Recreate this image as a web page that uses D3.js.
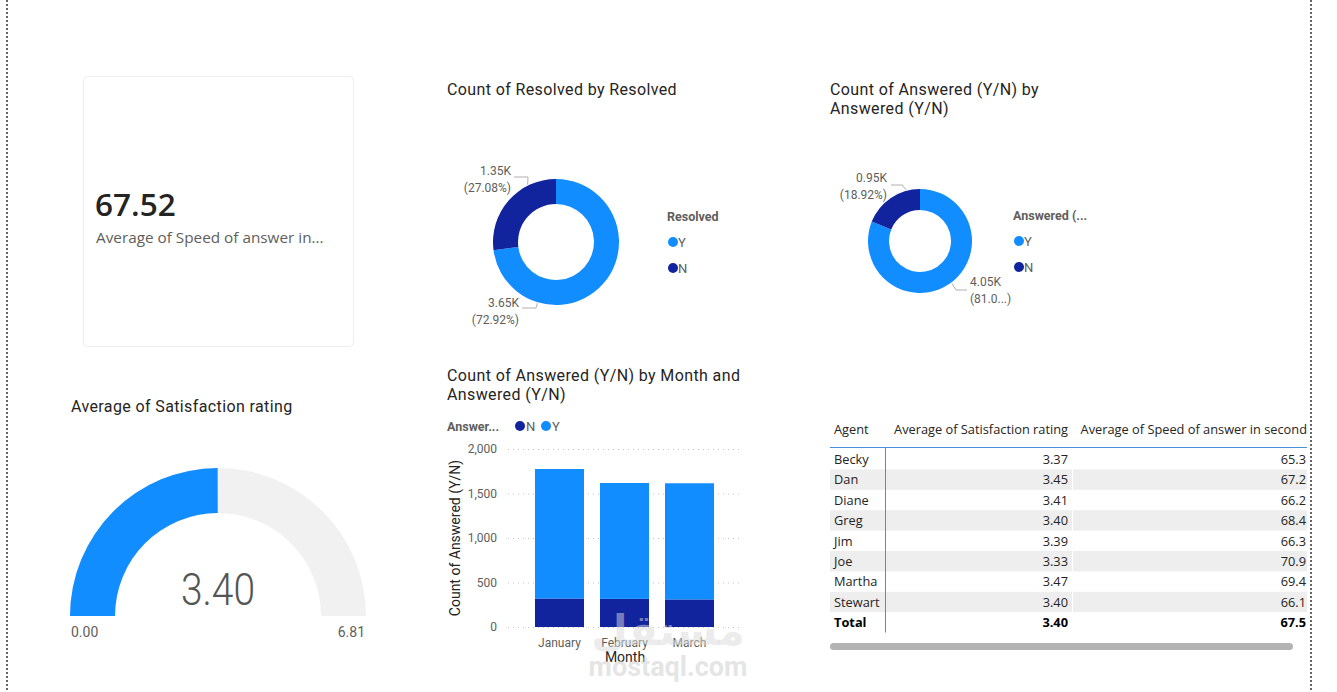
<!DOCTYPE html>
<html><head><meta charset="utf-8">
<script src="https://cdn.jsdelivr.net/npm/d3@7"></script>
<style>
html,body{margin:0;padding:0;background:#fff;}
svg{display:block;}
.t{font-family:Roboto,"DejaVu Sans",sans-serif;}
.s{font-family:"Open Sans","Noto Sans",sans-serif;}
.ttl{font-family:Roboto,"DejaVu Sans",sans-serif;font-size:16px;letter-spacing:0.38px;fill:#252423;}
</style></head><body>
<svg id="c" width="1337" height="692"></svg>
<script>
// ---------- DATA ----------
const kpiValue = 67.52;
const kpiLabel = "Average of Speed of answer in...";
const gaugeValue = 3.40;
const gaugeMin = 0;
const gaugeMax = 6.81;
const resolvedCats = ["Y","N"];
const resolvedCounts = [3646, 1354];
const answeredCats = ["Y","N"];
const answeredCounts = [4054, 946];
const months = ["January","February","March"];
const monthN = [320, 316, 310];
const monthY = [1455, 1302, 1305];
const yTicks = [0, 500, 1000, 1500, 2000];
const agents = ["Becky","Dan","Diane","Greg","Jim","Joe","Martha","Stewart"];
const agentSat = [3.37, 3.45, 3.41, 3.40, 3.39, 3.33, 3.47, 3.40];
const agentSpeed = [65.3, 67.2, 66.2, 68.4, 66.3, 70.9, 69.4, 66.1];
const totalSat = 3.40, totalSpeed = 67.5;

const BLUE = "#118DFF", NAVY = "#12239E", TXT = "#252423", SUB = "#605E5C";
const svg = d3.select("#c");

// page dotted borders
[7, 1311].forEach(x => svg.append("line").attr("x1", x).attr("x2", x).attr("y1", 0).attr("y2", 692)
  .attr("stroke", "#666").attr("stroke-width", 2).attr("stroke-dasharray", "2,2"));

// ---------- KPI CARD ----------
svg.append("rect").attr("x", 83.5).attr("y", 76.5).attr("width", 270).attr("height", 270).attr("rx", 4)
  .attr("fill", "#fff").attr("stroke", "#eeeeee");
svg.append("text").attr("class", "s").attr("x", 95).attr("y", 216).attr("font-size", 31.5).attr("font-weight", 600)
  .attr("fill", TXT).text(d3.format(".2f")(kpiValue));
svg.append("text").attr("class", "s").attr("x", 96).attr("y", 243).attr("font-size", 15.3).attr("fill", SUB).text(kpiLabel);

// ---------- GAUGE ----------
svg.append("text").attr("class", "ttl").attr("x", 71).attr("y", 412).text("Average of Satisfaction rating");
const gx = 218, gy = 616;
const ga = d3.scaleLinear().domain([gaugeMin, gaugeMax]).range([-Math.PI / 2, Math.PI / 2]);
const garc = d3.arc().innerRadius(103).outerRadius(148);
const gg = svg.append("g").attr("transform", `translate(${gx},${gy})`);
gg.append("path").attr("d", garc({startAngle: ga(gaugeMin), endAngle: ga(gaugeMax)})).attr("fill", "#F1F1F1");
gg.append("path").attr("d", garc({startAngle: ga(gaugeMin), endAngle: ga(gaugeValue)})).attr("fill", BLUE);
gg.append("text").attr("class", "t").attr("x", 0).attr("y", -11).attr("text-anchor", "middle").attr("font-size", 45)
  .attr("font-weight", 300).attr("fill", "#555").attr("textLength", 74).attr("lengthAdjust", "spacingAndGlyphs")
  .text(d3.format(".2f")(gaugeValue));
svg.append("text").attr("class", "t").attr("x", 71).attr("y", 637).attr("font-size", 14).attr("fill", SUB).text(d3.format(".2f")(gaugeMin));
svg.append("text").attr("class", "t").attr("x", 365).attr("y", 637).attr("text-anchor", "end").attr("font-size", 14).attr("fill", SUB).text(d3.format(".2f")(gaugeMax));

// ---------- DONUTS ----------
function kfmt(v) { return d3.format(".2f")(v / 1000) + "K"; }
function donut(opts) {
  const {cx, cy, r, ri, cats, counts, title, legendTitle, lx, ly, labels} = opts;
  const total = d3.sum(counts);
  const color = d3.scaleOrdinal().domain(["Y", "N"]).range([BLUE, NAVY]);
  const pie = d3.pie().sort(null).value(d => d.v);
  const arcs = pie(cats.map((c, i) => ({c, v: counts[i]})));
  const arc = d3.arc().innerRadius(ri).outerRadius(r);
  const g = svg.append("g").attr("transform", `translate(${cx},${cy})`);
  g.selectAll("path").data(arcs).join("path").attr("d", arc).attr("fill", d => color(d.data.c));
  title.forEach((t, i) => svg.append("text").attr("class", "ttl").attr("x", opts.tx).attr("y", opts.ty + i * 19).text(t));
  arcs.forEach((a, i) => {
    const L = labels[i];
    const ang = a.startAngle + (a.endAngle - a.startAngle) * L.f;
    const px = cx + (r + 1) * Math.sin(ang), py = cy - (r + 1) * Math.cos(ang);
    const pct = d3.format(".2%")(a.data.v / total);
    const pctTxt = L.trunc ? "(" + pct.slice(0, 4) + "...)" : "(" + pct + ")";
    svg.append("polyline").attr("points", L.pts(px, py).map(p => p.join(",")).join(" "))
      .attr("fill", "none").attr("stroke", "#b3b0ad").attr("stroke-width", 1);
    [kfmt(a.data.v), pctTxt].forEach((t, k) => svg.append("text").attr("class", "t")
      .attr("x", L.x).attr("y", L.y + k * 16.5).attr("text-anchor", L.anchor).attr("font-size", 12).attr("fill", SUB).text(t));
  });
  svg.append("text").attr("class", "t").attr("x", lx).attr("y", ly).attr("font-size", 12.5).attr("font-weight", 700)
    .attr("fill", SUB).text(legendTitle);
  cats.forEach((c, i) => {
    svg.append("circle").attr("cx", lx + 6).attr("cy", ly + 21 + i * 26).attr("r", 5).attr("fill", color(c));
    svg.append("text").attr("class", "t").attr("x", lx + 11).attr("y", ly + 26 + i * 26).attr("font-size", 13).attr("fill", SUB).text(c);
  });
}
donut({cx: 556, cy: 242, r: 63, ri: 38, cats: resolvedCats, counts: resolvedCounts,
  title: ["Count of Resolved by Resolved"], tx: 447, ty: 95, legendTitle: "Resolved", lx: 667, ly: 221,
  labels: [
    {f: 0.75, x: 519, y: 307, anchor: "end", pts: (px, py) => [[522, 308], [536, 308], [px, py]]},
    {f: 0.73, x: 511, y: 175, anchor: "end", pts: (px, py) => [[514, 177], [528, 177], [px, py]]}
  ]});
donut({cx: 920, cy: 241, r: 52, ri: 31, cats: answeredCats, counts: answeredCounts,
  title: ["Count of Answered (Y/N) by", "Answered (Y/N)"], tx: 830, ty: 95, legendTitle: "Answered (...", lx: 1013, ly: 220,
  labels: [
    {f: 0.49, x: 970, y: 286, anchor: "start", trunc: true, pts: (px, py) => [[px, py], [956, 290], [967, 290]]},
    {f: 0.78, x: 887, y: 182, anchor: "end", pts: (px, py) => [[891, 185], [902, 185], [px, py]]}
  ]});

// ---------- STACKED BAR ----------
svg.append("text").attr("class", "ttl").attr("x", 447).attr("y", 381).text("Count of Answered (Y/N) by Month and");
svg.append("text").attr("class", "ttl").attr("x", 447).attr("y", 400).text("Answered (Y/N)");
svg.append("text").attr("class", "t").attr("x", 447).attr("y", 431).attr("font-size", 12.5).attr("font-weight", 700).attr("fill", SUB).text("Answer...");
[["N", NAVY, 520], ["Y", BLUE, 546]].forEach(([c, col, x]) => {
  svg.append("circle").attr("cx", x).attr("cy", 426).attr("r", 5).attr("fill", col);
  svg.append("text").attr("class", "t").attr("x", x + 6).attr("y", 431).attr("font-size", 13).attr("fill", SUB).text(c);
});
const y = d3.scaleLinear().domain([0, 2000]).range([627, 449]);
const x = d3.scaleBand().domain(months).range([508, 741]).paddingInner(0.246).paddingOuter(0.415);
const yAxis = svg.append("g").attr("transform", "translate(508,0)")
  .call(d3.axisLeft(y).tickValues(yTicks).tickFormat(d3.format(",")).tickSize(-232).tickPadding(11));
yAxis.select(".domain").remove();
yAxis.selectAll(".tick line").attr("stroke", "#c8c6c4").attr("stroke-dasharray", "1,4");
yAxis.selectAll(".tick text").attr("class", "t").attr("font-size", 12).attr("fill", SUB);
const stackData = months.map((m, i) => ({m, N: monthN[i], Y: monthY[i]}));
const series = d3.stack().keys(["N", "Y"])(stackData);
const bc = {N: NAVY, Y: BLUE};
svg.selectAll("g.ser").data(series).join("g").attr("class", "ser").attr("fill", d => bc[d.key])
  .selectAll("rect").data(d => d).join("rect")
  .attr("x", d => x(d.data.m)).attr("width", x.bandwidth())
  .attr("y", d => y(d[1])).attr("height", d => y(d[0]) - y(d[1]));
const xAxis = svg.append("g").attr("transform", "translate(0,627)").call(d3.axisBottom(x).tickSize(0).tickPadding(11));
xAxis.select(".domain").remove();
xAxis.selectAll(".tick text").attr("class", "t").attr("font-size", 12).attr("fill", SUB);
svg.append("text").attr("class", "t").attr("x", 625).attr("y", 662).attr("text-anchor", "middle").attr("font-size", 14).attr("fill", TXT).text("Month");
svg.append("text").attr("class", "t").attr("transform", "translate(460,538) rotate(-90)").attr("text-anchor", "middle")
  .attr("font-size", 14).attr("fill", TXT).text("Count of Answered (Y/N)");

// watermark
svg.append("text").attr("x", 668).attr("y", 645).attr("text-anchor", "middle").attr("font-family", "DejaVu Sans")
  .attr("font-size", 42).attr("font-weight", 700).attr("fill", "#d9d9d9").attr("fill-opacity", 0.5).text("مستقل");
svg.append("text").attr("x", 668).attr("y", 676).attr("text-anchor", "middle").attr("font-family", "Roboto")
  .attr("font-size", 27).attr("font-weight", 700).attr("fill", "#d4d4d4").attr("fill-opacity", 0.6).text("mostaql.com");

// ---------- TABLE ----------
const tx0 = 830, tx1 = 885, tx2 = 1072, tx3 = 1307;
const rowH = 20.4, row0 = 449;
const tbl = svg.append("g").attr("class", "s");
const FS = 12.8;
tbl.append("text").attr("x", 834).attr("y", 434).attr("font-size", FS).attr("fill", TXT).text("Agent");
tbl.append("text").attr("x", 1068).attr("y", 434).attr("text-anchor", "end").attr("font-size", FS).attr("fill", TXT).text("Average of Satisfaction rating");
tbl.append("text").attr("x", 1307).attr("y", 434).attr("text-anchor", "end").attr("font-size", FS).attr("fill", TXT).text("Average of Speed of answer in second");
agents.forEach((a, i) => {
  const yy = row0 + i * rowH;
  if (i % 2 === 1) {
    [[tx0, tx1], [tx1 + 1, tx2], [tx2 + 1, tx3]].forEach(([a0, a1]) =>
      tbl.append("rect").attr("x", a0).attr("y", yy).attr("width", a1 - a0).attr("height", rowH).attr("fill", "#eeeeee"));
  }
  tbl.append("text").attr("x", 834).attr("y", yy + 15).attr("font-size", FS).attr("fill", TXT).text(a);
  tbl.append("text").attr("x", 1068).attr("y", yy + 15).attr("text-anchor", "end").attr("font-size", FS).attr("fill", TXT).text(d3.format(".2f")(agentSat[i]));
  tbl.append("text").attr("x", 1306).attr("y", yy + 15).attr("text-anchor", "end").attr("font-size", FS).attr("fill", TXT).text(d3.format(".1f")(agentSpeed[i]));
});
const ty = row0 + agents.length * rowH;
tbl.append("text").attr("x", 834).attr("y", ty + 15).attr("font-size", FS).attr("font-weight", 700).attr("fill", "#000").text("Total");
tbl.append("text").attr("x", 1068).attr("y", ty + 15).attr("text-anchor", "end").attr("font-size", FS).attr("font-weight", 700).attr("fill", "#000").text(d3.format(".2f")(totalSat));
tbl.append("text").attr("x", 1306).attr("y", ty + 15).attr("text-anchor", "end").attr("font-size", FS).attr("font-weight", 700).attr("fill", "#000").text(d3.format(".1f")(totalSpeed));
tbl.append("line").attr("x1", tx0).attr("x2", tx3).attr("y1", 447.5).attr("y2", 447.5).attr("stroke", "#4a90d9").attr("stroke-width", 1);
tbl.append("line").attr("x1", tx1 + 0.5).attr("x2", tx1 + 0.5).attr("y1", 448).attr("y2", ty + rowH).attr("stroke", "#4a90d9").attr("stroke-width", 1);
tbl.append("rect").attr("x", 830).attr("y", 643).attr("width", 463).attr("height", 7).attr("rx", 3.5).attr("fill", "#b3b3b3");
</script>
</body></html>
